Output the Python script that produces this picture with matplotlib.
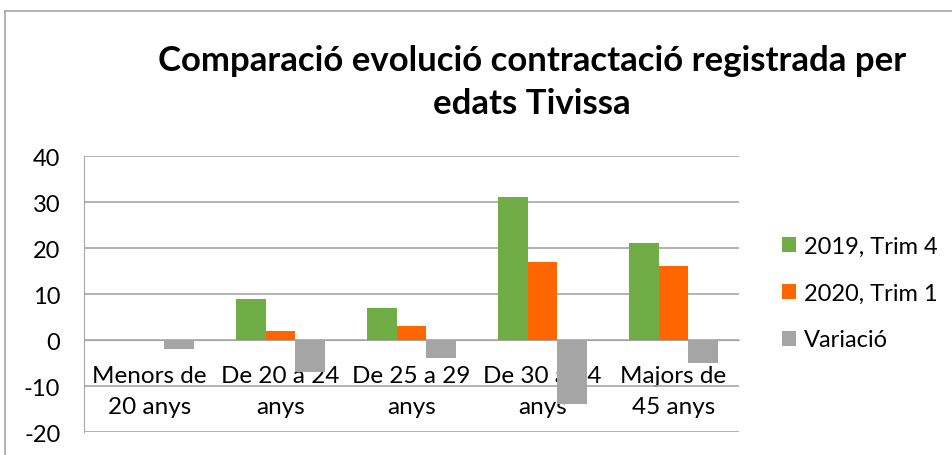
import numpy as np
import matplotlib.pyplot as plt
from matplotlib.lines import Line2D

plt.rcParams['font.family'] = ['Lato', 'DejaVu Sans']
plt.rcParams['axes.unicode_minus'] = False

# dades
categories = ['Menors de\n20 anys', 'De 20 a 24\nanys', 'De 25 a 29\nanys',
              'De 30 a 44\nanys', 'Majors de\n45 anys']
trim4_2019 = [0, 9, 7, 31, 21]
trim1_2020 = [0, 2, 3, 17, 16]
variacio = [-2, -7, -4, -14, -5]
series_names = ['2019, Trim 4', '2020, Trim 1', 'Variació']
colors = ['#70AD47', '#FF6600', '#A5A5A5']
y_ticks = [-20, -10, 0, 10, 20, 30, 40]

fig = plt.figure(figsize=(9.53, 4.56), dpi=100)
ax = fig.add_axes([0.0881, 0.0504, 0.6874, 0.6053])

x = np.arange(len(categories))
w = 0.225
for i, (vals, name, c) in enumerate(zip([trim4_2019, trim1_2020, variacio], series_names, colors)):
    ax.bar(x + (i - 1) * w, vals, w, color=c, label=name, zorder=3)

ax.set_xlim(-0.5, len(categories) - 0.5)
ax.set_ylim(-20, 40)
ax.set_yticks(y_ticks)
ax.yaxis.grid(True, color='#A6A6A6', linewidth=1.2, zorder=0)
ax.tick_params(axis='y', length=0, labelsize=17, pad=17, colors='#000000')

# eix x a zero
ax.spines['bottom'].set_position(('data', 0))
ax.spines['bottom'].set_color('#A6A6A6')
ax.spines['left'].set_color('#A6A6A6')
ax.spines['top'].set_visible(False)
ax.spines['right'].set_visible(False)
ax.set_xticks(x)
ax.set_xticklabels(categories, fontsize=17.5, linespacing=1.6)
ax.tick_params(axis='x', length=0, pad=18)

fig.text(0.558, 0.819, 'Comparació evolució contractació registrada per\nedats Tivissa',
         ha='center', va='center', fontsize=25, fontweight='bold', linespacing=1.45)

leg = ax.legend(loc='center left', bbox_to_anchor=(1.066, 0.504), frameon=False,
                fontsize=17, handlelength=0.6, handleheight=0.6, borderpad=0,
                borderaxespad=0, handletextpad=0.3, labelspacing=1.1)

# vora del gràfic
fig.add_artist(Line2D([0.0055, 1.0], [0.974, 0.974], color='#A6A6A6', linewidth=1.2))
fig.add_artist(Line2D([0.0055, 0.0055], [0.0, 0.974], color='#A6A6A6', linewidth=1.2))

fig.savefig('out.png', dpi=100)
